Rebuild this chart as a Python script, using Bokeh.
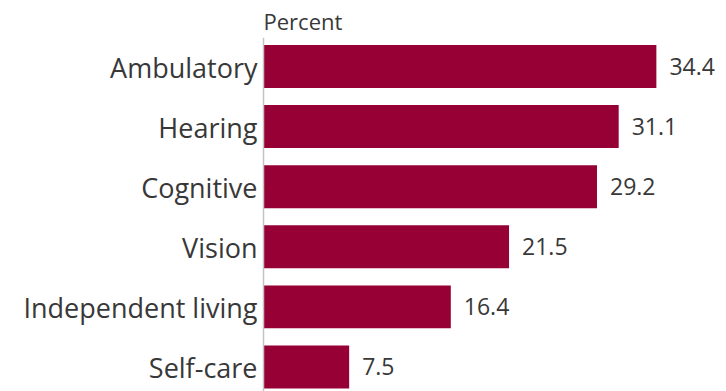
from bokeh.plotting import figure
from bokeh.models import Range1d, ColumnDataSource
from bokeh.core.properties import value
from bokeh.embed import file_html
from bokeh.resources import INLINE

categories = ["Ambulatory", "Hearing", "Cognitive", "Vision", "Independent living", "Self-care"]
percents = [34.4, 31.1, 29.2, 21.5, 16.4, 7.5]
value_labels = ["34.4", "31.1", "29.2", "21.5", "16.4", "7.5"]
axis_title = "Percent"

n = len(categories)
ypos = [n - 1 - i for i in range(n)]

src = ColumnDataSource(dict(cat=categories, pct=percents, lab=value_labels, y=ypos))

p = figure(width=726, height=391, output_backend="svg", toolbar_location=None,
           x_range=Range1d(-23.03, 40.54), y_range=Range1d(-0.408, 6.098),
           x_axis_type=None, y_axis_type=None, min_border=0)
p.outline_line_color = None
p.xgrid.visible = False
p.ygrid.visible = False
p.background_fill_color = "white"
p.border_fill_color = "white"

FONT = value("Open Sans")
BAR = "#960035"
TXT = "#383838"

p.hbar(y="y", left=0, right="pct", height=0.715, source=src, fill_color=BAR, line_color=None)

# axis line
p.segment(x0=[0], y0=[-0.408], x1=[0], y1=[5.48], line_color="#c4c4c4", line_width=1.5)

# category labels
p.text(x=0, y="y", text="cat", source=src, x_offset=-6, y_offset=1, text_align="right",
       text_baseline="middle", text_font=FONT, text_font_size="27px", text_color=TXT)

# value labels
p.text(x="pct", y="y", text="lab", source=src, x_offset=13, y_offset=0, text_align="left",
       text_baseline="middle", text_font=FONT, text_font_size="23px", text_color=TXT)

# axis title
p.text(x=[0], y=[5.765], text=[axis_title], text_align="left", text_baseline="middle",
       text_font=FONT, text_font_size="22px", text_color=TXT)

open("out.html", "w").write(file_html(p, INLINE))
